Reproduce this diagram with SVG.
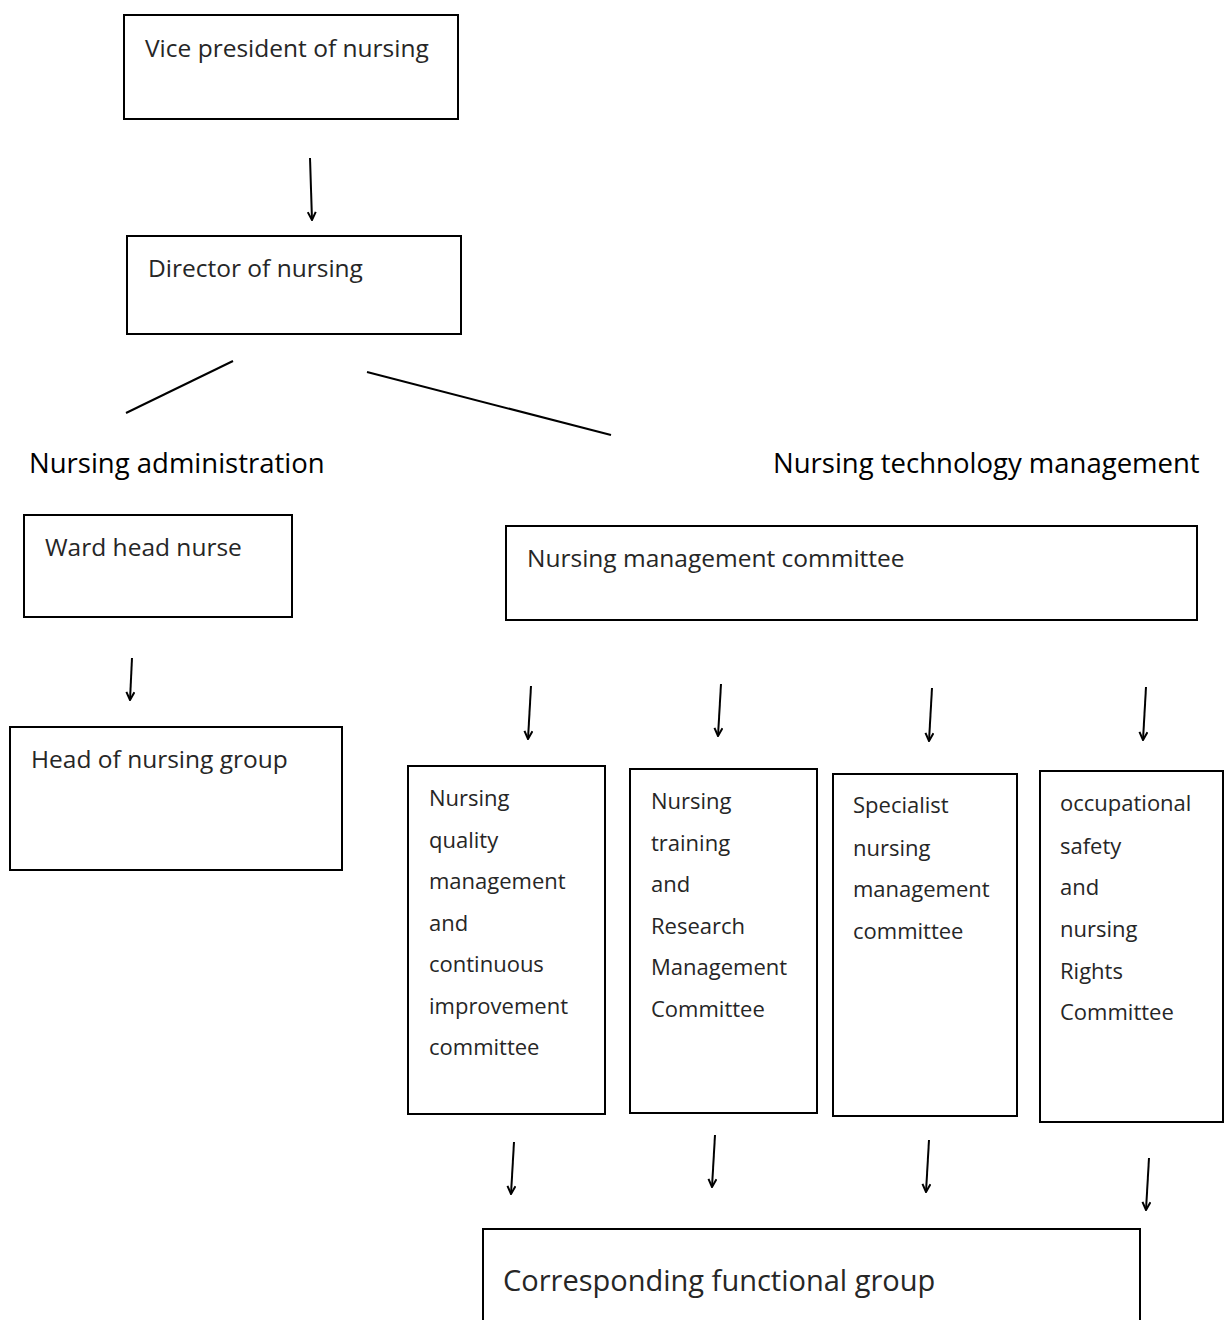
<svg xmlns="http://www.w3.org/2000/svg" width="1224" height="1320" viewBox="0 0 1224 1320">
<style>
.box{fill:#fff;stroke:#000;stroke-width:2}
.t{font-family:"Open Sans","Noto Sans",sans-serif;font-size:24.5px;fill:#262626}
.s{font-family:"Open Sans","Noto Sans",sans-serif;font-size:22px;fill:#262626}
.h{font-family:"Open Sans","Noto Sans",sans-serif;font-size:27.5px;fill:#000}
.b{font-family:"Open Sans","Noto Sans",sans-serif;font-size:29px;fill:#262626}
.c{stroke:#000;stroke-width:2;fill:none}
.a{stroke:#000;stroke-width:2;fill:none;marker-end:url(#ah)}
</style>
<defs>
<marker id="ah" viewBox="0 0 10 10" refX="9" refY="5" markerWidth="5" markerHeight="5" orient="auto" markerUnits="strokeWidth">
<path d="M1,1 L9,5 L1,9" fill="none" stroke="#000" stroke-width="2"/>
</marker>
</defs>
<rect width="1224" height="1320" fill="#fff"/>
<g id="connectors">
<line class="a" x1="310" y1="158" x2="312" y2="220"/>
<line class="c" x1="126" y1="413" x2="233" y2="361"/>
<line class="c" x1="367" y1="372" x2="611" y2="435"/>
<line class="a" x1="132" y1="658" x2="130" y2="700"/>
<line class="a" x1="531" y1="686" x2="528" y2="739"/>
<line class="a" x1="721" y1="684" x2="718" y2="736"/>
<line class="a" x1="932" y1="688" x2="929" y2="741"/>
<line class="a" x1="1146" y1="687" x2="1143" y2="740"/>
<line class="a" x1="514" y1="1142" x2="511" y2="1194"/>
<line class="a" x1="715" y1="1135" x2="712" y2="1187"/>
<line class="a" x1="929" y1="1140" x2="926" y2="1192"/>
<line class="a" x1="1149" y1="1158" x2="1146" y2="1210"/>
</g>
<g id="vp"><rect class="box" x="124" y="15" width="334" height="104"/><text class="t" x="145" y="57">Vice president of nursing</text></g>
<g id="director"><rect class="box" x="127" y="236" width="334" height="98"/><text class="t" x="148" y="277">Director of nursing</text></g>
<g id="admin-label"><text class="h" x="29" y="473">Nursing administration</text></g>
<g id="tech-label"><text class="h" x="773" y="473">Nursing technology management</text></g>
<g id="ward"><rect class="box" x="24" y="515" width="268" height="102"/><text class="t" x="45" y="556">Ward head nurse</text></g>
<g id="head-group"><rect class="box" x="10" y="727" width="332" height="143"/><text class="t" x="31" y="768">Head of nursing group</text></g>
<g id="nmc"><rect class="box" x="506" y="526" width="691" height="94"/><text class="t" x="527" y="567">Nursing management committee</text></g>
<g id="quality"><rect class="box" x="408" y="766" width="197" height="348"/>
<text class="s"><tspan x="429" y="806">Nursing</tspan><tspan x="429" y="848">quality</tspan><tspan x="429" y="889">management</tspan><tspan x="429" y="931">and</tspan><tspan x="429" y="972">continuous</tspan><tspan x="429" y="1014">improvement</tspan><tspan x="429" y="1055">committee</tspan></text></g>
<g id="training"><rect class="box" x="630" y="769" width="187" height="344"/>
<text class="s"><tspan x="651" y="809">Nursing</tspan><tspan x="651" y="851">training</tspan><tspan x="651" y="892">and</tspan><tspan x="651" y="934">Research</tspan><tspan x="651" y="975">Management</tspan><tspan x="651" y="1017">Committee</tspan></text></g>
<g id="specialist"><rect class="box" x="833" y="774" width="184" height="342"/>
<text class="s"><tspan x="853" y="813">Specialist</tspan><tspan x="853" y="856">nursing</tspan><tspan x="853" y="897">management</tspan><tspan x="853" y="939">committee</tspan></text></g>
<g id="safety"><rect class="box" x="1040" y="771" width="183" height="351"/>
<text class="s"><tspan x="1060" y="811">occupational</tspan><tspan x="1060" y="854">safety</tspan><tspan x="1060" y="895">and</tspan><tspan x="1060" y="937">nursing</tspan><tspan x="1060" y="979">Rights</tspan><tspan x="1060" y="1020">Committee</tspan></text></g>
<g id="functional"><rect class="box" x="483" y="1229" width="657" height="100"/><text class="b" x="503" y="1291">Corresponding functional group</text></g>
</svg>
